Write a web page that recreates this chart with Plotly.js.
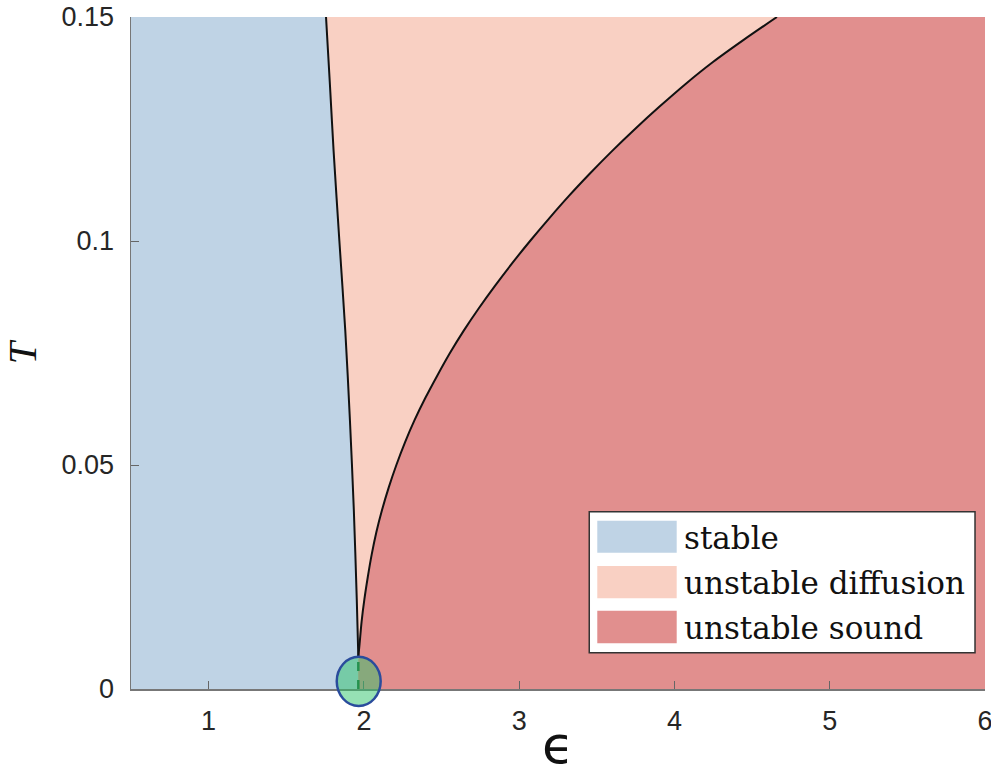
<!DOCTYPE html>
<html><head><meta charset="utf-8">
<script src="https://cdn.plot.ly/plotly-3.0.1.min.js"></script>
<style>html,body{margin:0;padding:0;background:#fff}</style>
</head><body><div id="chart" style="width:991px;height:775px"></div>
<script>
// ---- data ----
const regionNames = ['stable', 'unstable diffusion', 'unstable sound'];
const regionColors = ['#bfd3e5', '#f9d0c3', '#e18f8e'];
const cuspEps = 1.964;
const cuspT = 0.0072;
// left boundary (stable | unstable diffusion)
const leftT   = [0.0072, 0.020, 0.040, 0.060, 0.080, 0.100, 0.120, 0.135, 0.150];
const leftEps = [1.964, 1.954, 1.935, 1.910, 1.880, 1.842, 1.805, 1.781, 1.756];
// right boundary (unstable diffusion | unstable sound)
const rightT   = [0.0072, 0.010, 0.015, 0.020, 0.025, 0.030, 0.035, 0.040, 0.045, 0.050, 0.055, 0.060,
                  0.065, 0.070, 0.075, 0.080, 0.085, 0.090, 0.095, 0.100, 0.105, 0.110, 0.115, 0.120,
                  0.125, 0.130, 0.135, 0.140, 0.145, 0.150];
const rightEps = [1.964, 1.972, 1.985, 2.003, 2.025, 2.050, 2.080, 2.117, 2.160, 2.209, 2.264, 2.326,
                  2.396, 2.473, 2.554, 2.643, 2.740, 2.844, 2.954, 3.070, 3.192, 3.319, 3.454, 3.596,
                  3.746, 3.904, 4.070, 4.250, 4.450, 4.660];
const epsRange = [0.5, 6];
const tRange = [0, 0.15];
const xTickVals = [1, 2, 3, 4, 5, 6];
const yTickVals = [0, 0.05, 0.1, 0.15];
const yTickText = ['0', '0.05', '0.1', '0.15'];

// ---- traces ----
const noLine = {width: 0, shape: 'spline', smoothing: 0.8, simplify: false};
const curveLine = {color: '#111', width: 2, shape: 'spline', smoothing: 0.8, simplify: false};
const traces = [
  {x: [epsRange[0], epsRange[0]], y: tRange, mode: 'lines', line: noLine, hoverinfo: 'skip', showlegend: false},
  {x: [cuspEps].concat(leftEps), y: [tRange[0]].concat(leftT), mode: 'lines', line: noLine,
   fill: 'tonextx', fillcolor: regionColors[0], name: regionNames[0], hoverinfo: 'skip', showlegend: false},
  {x: [cuspEps].concat(rightEps), y: [tRange[0]].concat(rightT), mode: 'lines', line: noLine,
   fill: 'tonextx', fillcolor: regionColors[1], name: regionNames[1], hoverinfo: 'skip', showlegend: false},
  {x: [epsRange[1], epsRange[1]], y: tRange, mode: 'lines', line: noLine,
   fill: 'tonextx', fillcolor: regionColors[2], name: regionNames[2], hoverinfo: 'skip', showlegend: false},
  {x: leftEps, y: leftT, mode: 'lines', line: curveLine, hoverinfo: 'skip', showlegend: false},
  {x: rightEps, y: rightT, mode: 'lines', line: curveLine, hoverinfo: 'skip', showlegend: false},
  {x: [cuspEps, cuspEps], y: [tRange[0], cuspT], mode: 'lines', line: {color: '#1d5e33', width: 2.5, dash: 'dash'}, hoverinfo: 'skip', showlegend: false}
];

// ---- custom legend (box + patches + labels) ----
const legX0 = 0.5366, legX1 = 0.9883, legY0 = 0.054, legY1 = 0.2638;
const patchX0 = 0.546, patchX1 = 0.639;
const rowBottoms = [0.2028, 0.1350, 0.0680];
const rowTops = [0.2504, 0.1830, 0.1165];
const shapes = [
  {type: 'circle', xref: 'x', yref: 'paper', x0: 1.825, x1: 2.108, y0: -0.0253, y1: 0.048,
   fillcolor: 'rgba(46,195,105,0.5)', line: {color: '#2a4c9c', width: 2.5}, layer: 'above'},
  {type: 'rect', xref: 'paper', yref: 'paper', x0: legX0, x1: legX1, y0: legY0, y1: legY1,
   fillcolor: '#ffffff', line: {color: '#333333', width: 1.5}, layer: 'above'}
];
const annotations = [];
regionNames.forEach((nm, i) => {
  shapes.push({type: 'rect', xref: 'paper', yref: 'paper', x0: patchX0, x1: patchX1,
    y0: rowBottoms[i], y1: rowTops[i], fillcolor: regionColors[i], line: {width: 0}, layer: 'above'});
  annotations.push({xref: 'paper', yref: 'paper', x: 0.6448, y: (rowBottoms[i] + rowTops[i]) / 2 - 0.002,
    xanchor: 'left', yanchor: 'middle', text: nm, showarrow: false,
    font: {family: 'DejaVu Serif', size: 31, color: '#111'}});
});

const tickFont = {family: 'Liberation Sans, Arial, sans-serif', size: 27, color: '#262626'};
const layout = {
  width: 991, height: 775,
  margin: {l: 131, r: 6, t: 17, b: 86},
  paper_bgcolor: '#ffffff', plot_bgcolor: '#ffffff',
  showlegend: false, hovermode: false,
  xaxis: {range: epsRange, tickvals: xTickVals, ticks: 'inside', ticklen: 8, tickcolor: '#666',
    showline: true, linecolor: '#777', linewidth: 1.5, showgrid: false, zeroline: false,
    tickfont: tickFont, ticklabelstandoff: 7, ticklabeloverflow: 'allow',
    title: {text: 'ϵ', font: {family: 'DejaVu Sans', size: 52, color: '#111'}, standoff: 0}},
  yaxis: {range: tRange, tickvals: yTickVals, ticktext: yTickText, ticks: 'inside', ticklen: 8, tickcolor: '#666',
    showline: true, linecolor: '#777', linewidth: 1.5, showgrid: false, zeroline: false,
    tickfont: tickFont, ticklabelstandoff: 10, ticklabeloverflow: 'allow',
    title: {text: '<i>T</i>', font: {family: 'Liberation Serif', size: 40, color: '#111'}, standoff: 14}},
  shapes: shapes,
  annotations: annotations
};
Plotly.newPlot('chart', traces, layout, {staticPlot: true, displayModeBar: false});
</script>
</body></html>
